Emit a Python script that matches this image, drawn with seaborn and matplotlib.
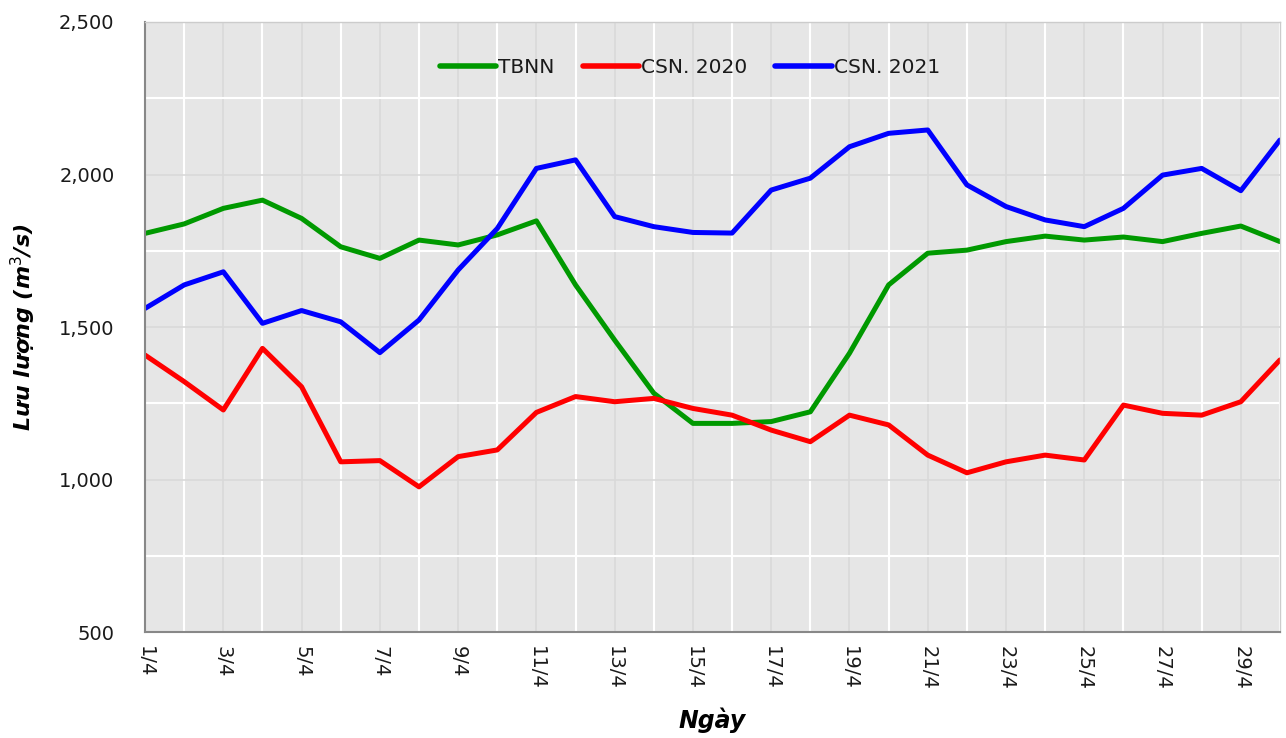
import numpy as np
import pandas as pd
import matplotlib
matplotlib.use('Agg')
import matplotlib.pyplot as plt
from matplotlib.ticker import MultipleLocator, FuncFormatter
import seaborn as sns

# days of April
days = list(range(1, 31))

# flow values (m3/s)
tbnn = [1807, 1838, 1889, 1916, 1856, 1763, 1725, 1785, 1769, 1802,
        1848, 1638, 1457, 1283, 1184, 1184, 1190, 1222, 1414, 1638,
        1742, 1752, 1780, 1798, 1785, 1795, 1780, 1807, 1831, 1780]
csn2020 = [1408, 1321, 1228, 1430, 1304, 1058, 1062, 976, 1075, 1097,
           1220, 1272, 1255, 1266, 1233, 1211, 1162, 1124, 1211, 1179,
           1080, 1022, 1058, 1080, 1064, 1244, 1217, 1211, 1255, 1392]
csn2021 = [1561, 1638, 1681, 1512, 1554, 1517, 1416, 1523, 1687, 1823,
           2020, 2048, 1862, 1829, 1810, 1808, 1949, 1988, 2091, 2135,
           2146, 1966, 1895, 1851, 1829, 1889, 1998, 2020, 1947, 2113]

series_names = ['TBNN', 'CSN. 2020', 'CSN. 2021']
colors = ['#009900', '#ff0000', '#0000ff']

df = pd.DataFrame({
    'Ngay': days * 3,
    'Q': tbnn + csn2020 + csn2021,
    'Series': [n for n in series_names for _ in days],
})

sns.set_style('white')
plt.rcParams['font.family'] = ['DejaVu Sans']
plt.rcParams['text.color'] = '#1a1a1a'
plt.rcParams['xtick.color'] = '#1a1a1a'
plt.rcParams['ytick.color'] = '#1a1a1a'
plt.rcParams['axes.labelcolor'] = 'black'

fig = plt.figure(figsize=(12.86, 7.38), dpi=100)
ax = fig.add_axes([0.1128, 0.1436, 0.8825, 0.8266])
ax.set_facecolor('#e6e6e6')

sns.lineplot(data=df, x='Ngay', y='Q', hue='Series', palette=colors,
             hue_order=series_names, linewidth=3.6, ax=ax,
             solid_joinstyle='round', solid_capstyle='round', legend=False)

# axes and grid
ax.set_xlim(1, 30)
ax.set_ylim(500, 2500)
ax.xaxis.set_minor_locator(MultipleLocator(1))
ax.yaxis.set_major_locator(MultipleLocator(500))
ax.yaxis.set_minor_locator(MultipleLocator(250))
ax.set_xticks(days[::2])
ax.set_xticklabels([f'{d}/4' for d in days[::2]], rotation=-90, fontsize=14)
ax.yaxis.set_major_formatter(FuncFormatter(lambda v, p: f'{int(v):,}'))
ax.tick_params(axis='y', which='both', length=0, labelsize=14, pad=22)
ax.tick_params(axis='x', which='major', length=6, width=1.5, color='#888888',
               direction='out', pad=4)
ax.tick_params(axis='x', which='minor', length=0)
ax.grid(which='minor', color='white', linewidth=1.5)
ax.grid(which='major', color='#d9d9d9', linewidth=1.2)
ax.set_axisbelow(True)

for side in ['left', 'bottom']:
    ax.spines[side].set_color('#888888')
    ax.spines[side].set_linewidth(1.5)
for side in ['top', 'right']:
    ax.spines[side].set_color('#cccccc')
    ax.spines[side].set_linewidth(1.0)

ax.set_xlabel('Ngày', fontsize=17, fontweight='bold', fontstyle='italic', labelpad=13)
ax.set_ylabel('Lưu lượng (m$^3$/s)', fontsize=16, fontweight='bold',
              fontstyle='italic', labelpad=15)

# legend
handles = [plt.Line2D([], [], color=c, linewidth=4, solid_capstyle='round') for c in colors]
ax.legend(handles, series_names, loc='upper center', bbox_to_anchor=(0.48, 0.97),
          ncol=3, frameon=False, fontsize=14.5, handlelength=2.8, handletextpad=0.1,
          columnspacing=1.4)

fig.savefig('out.png', dpi=100)
